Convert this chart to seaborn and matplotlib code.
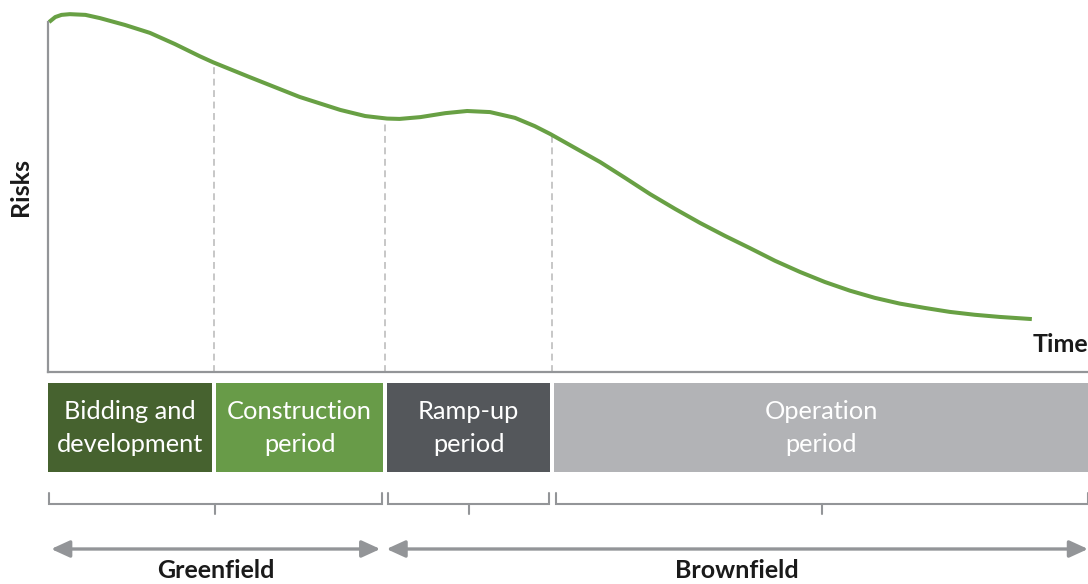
import numpy as np
import matplotlib
matplotlib.use("Agg")
import matplotlib.pyplot as plt
from matplotlib.patches import Rectangle, FancyArrowPatch
import seaborn as sns

# Risk profile over the life of a project (time in arbitrary units, risk in %)
time = [0.01, 0.07, 0.13, 0.21, 0.36, 0.50, 0.74, 0.98, 1.22, 1.46, 1.59, 1.94,
        2.42, 2.81, 3.05, 3.26, 3.38, 3.58, 3.82, 4.03, 4.25, 4.49, 4.68, 4.83,
        5.07, 5.31, 5.55, 5.79, 6.03, 6.27, 6.51, 6.75, 6.99, 7.23, 7.47, 7.71,
        7.95, 8.19, 8.43, 8.67, 8.91, 9.15, 9.46]
risk = [97.2, 98.6, 99.2, 99.4, 99.2, 98.3, 96.4, 94.2, 91.1, 87.7, 86.0, 81.9,
        76.4, 72.8, 71.1, 70.4, 70.3, 70.8, 71.9, 72.5, 72.2, 70.6, 68.3, 66.1,
        62.2, 58.3, 53.9, 49.4, 45.3, 41.4, 37.8, 34.4, 30.9, 27.8, 25.0, 22.6,
        20.6, 19.0, 17.8, 16.7, 15.9, 15.3, 14.7]

# Project phases and their boundaries on the time axis
phases = ["Bidding and\ndevelopment", "Construction\nperiod",
          "Ramp-up\nperiod", "Operation\nperiod"]
phase_edges = [0.0, 1.60, 3.24, 4.85, 10.0]
phase_colors = ["#46622f", "#689b48", "#54575b", "#b2b3b6"]

# Brackets group phases; arrows show greenfield vs brownfield
bracket_groups = [(0, 2), (2, 3), (3, 4)]
stages = ["Greenfield", "Brownfield"]
stage_groups = [(0, 2), (2, 4)]

GREEN = "#68a044"
GREY = "#939598"
DASH = "#b8b8b8"
INK = "#1a1a1a"

sns.set_theme(style="white")
plt.rcParams["font.family"] = ["Lato", "DejaVu Sans"]

W, H = 1088, 584
fig = plt.figure(figsize=(W / 100, H / 100), dpi=100)

# Main risk curve
ax = fig.add_axes([48 / W, (H - 372) / H, 1040 / W, 360 / H])
sns.lineplot(x=time, y=risk, ax=ax, color=GREEN, linewidth=2.9,
             solid_capstyle="butt")
ax.set_xlim(0, 10)
ax.set_ylim(0, 100)
ax.set_xticks([])
ax.set_yticks([])
ax.set_xlabel("")
ax.set_ylabel("")
for side in ("top", "right"):
    ax.spines[side].set_visible(False)
for side in ("left", "bottom"):
    ax.spines[side].set_color(GREY)
    ax.spines[side].set_linewidth(1.6)
ax.spines["left"].set_bounds(0, risk[0])
ax.patch.set_alpha(0)

# Dashed phase separators reaching up to the curve
for edge in phase_edges[1:-1]:
    top = np.interp(edge, time, risk)
    ax.vlines(edge, 0, top, colors=DASH, linewidth=1.1,
              linestyles=(0, (4.5, 3)), zorder=1)

ax.text(1.0, (372 - 344) / 360, "Time", transform=ax.transAxes,
        ha="right", va="center", fontsize=18, fontweight="bold", color=INK)
fig.text(20 / W, 1 - 187 / H, "Risks", rotation=90, ha="center",
         va="center", fontsize=18, fontweight="bold", color=INK)

# Lower panel: phase boxes, brackets and stage arrows (y in pixel rows)
lo = fig.add_axes([48 / W, 0, 1040 / W, (H - 372) / H])
lo.set_xlim(0, 10)
lo.set_ylim(584, 372)
lo.axis("off")

g = 0.02
for i, (name, col) in enumerate(zip(phases, phase_colors)):
    x0 = phase_edges[i] + (g if i > 0 else 0)
    x1 = phase_edges[i + 1] - (g if i < len(phases) - 1 else 0)
    lo.add_patch(Rectangle((x0, 383), x1 - x0, 89, facecolor=col,
                           edgecolor="none", clip_on=False))
    lo.text((x0 + x1) / 2, 428, name, ha="center", va="center",
            fontsize=18.3, color="white", linespacing=1.55)

gb = 0.03
for a, b in bracket_groups:
    x0 = phase_edges[a] + (gb if a > 0 else 0.01)
    x1 = phase_edges[b] - (gb if b < len(phase_edges) - 1 else 0)
    lo.plot([x0, x0, x1, x1], [493, 504, 504, 493], color=GREY, lw=1.5,
            solid_joinstyle="miter", clip_on=False)
    xm = (x0 + x1) / 2
    lo.plot([xm, xm], [504, 514], color=GREY, lw=1.5, clip_on=False)

for name, (a, b) in zip(stages, stage_groups):
    x0 = phase_edges[a] + (0.015 if a > 0 else 0.03)
    x1 = phase_edges[b] - (0.045 if b < len(phase_edges) - 1 else 0)
    arr = FancyArrowPatch((x0, 549), (x1, 549),
                          arrowstyle="<|-|>,head_length=0.7,head_width=0.32",
                          mutation_scale=16, color=GREY, lw=2.4,
                          shrinkA=0, shrinkB=0, clip_on=False)
    lo.add_patch(arr)
    lo.text((x0 + x1) / 2, 571, name, ha="center", va="center",
            fontsize=18, fontweight="bold", color=INK)

fig.savefig("out.png", dpi=100)
